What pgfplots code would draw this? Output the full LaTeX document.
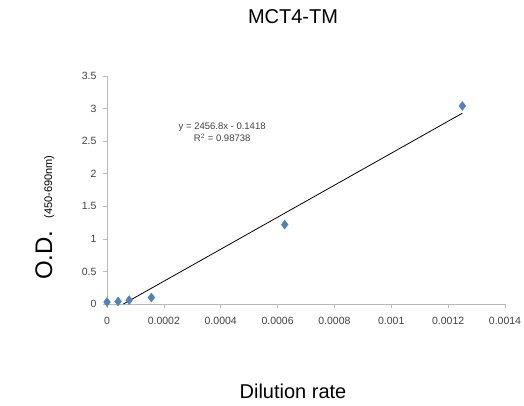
\documentclass[border=0pt]{standalone}
\usepackage{fontspec}
\setmainfont{Liberation Sans}
\usepackage{pgfplots}
\pgfplotsset{compat=1.18}
\definecolor{xlblue}{HTML}{4F81BD}
\definecolor{ticktext}{HTML}{404040}

\begin{document}
\begin{tikzpicture}[x=1pt,y=1pt]
\useasboundingbox (0,0) rectangle (524,405);
\begin{axis}[
    at={(107pt,101pt)}, anchor=south west,
    scale only axis,
    width=398pt, height=228pt,
    xmin=0, xmax=0.0014,
    ymin=0, ymax=3.5,
    axis x line*=bottom, axis y line*=left,
    axis line style={draw=gray!55, -},
    tick style={draw=gray!55, line width=0.6pt},
    tick align=outside,
    major tick length=4pt,
    scaled x ticks=false,
    xtick={0,0.0002,0.0004,0.0006,0.0008,0.001,0.0012,0.0014},
    xticklabels={0,0.0002,0.0004,0.0006,0.0008,0.001,0.0012,0.0014},
    ytick={0,0.5,1,1.5,2,2.5,3,3.5},
    yticklabels={0,0.5,1,1.5,2,2.5,3,3.5},
    ticklabel style={font=\fontsize{10.5}{12}\selectfont, text=ticktext},
    xticklabel style={yshift=-6pt},
    yticklabel style={xshift=-3pt},
    clip=false,
]
% measured points
\addplot[only marks, mark=diamond*, mark size=4.5pt, color=xlblue]
  coordinates {(0,0.03) (0.0000390625,0.04) (0.000078125,0.06) (0.00015625,0.10) (0.000625,1.22) (0.00125,3.04)};
% linear trend line y = 2456.8x - 0.1418
\addplot[black, line width=0.8pt] coordinates {(0.0000577,0) (0.00125,2.929)};
\node[align=center, font=\fontsize{9.5}{12}\selectfont, text=ticktext]
  at (axis cs:0.000405,2.63) {y = 2456.8x - 0.1418\\R$^2$ = 0.98738};
\end{axis}
\node[font=\fontsize{20}{24}\selectfont] at (293,388) {MCT4-TM};
\node[font=\fontsize{20}{24}\selectfont] at (293,14) {Dilution rate};
\node[rotate=90, anchor=base west, inner sep=0pt] at (52,125)
  {\fontsize{24}{28}\selectfont O.D.\hspace{12pt}\fontsize{11}{13}\selectfont(450-690nm)};
\end{tikzpicture}
\end{document}
